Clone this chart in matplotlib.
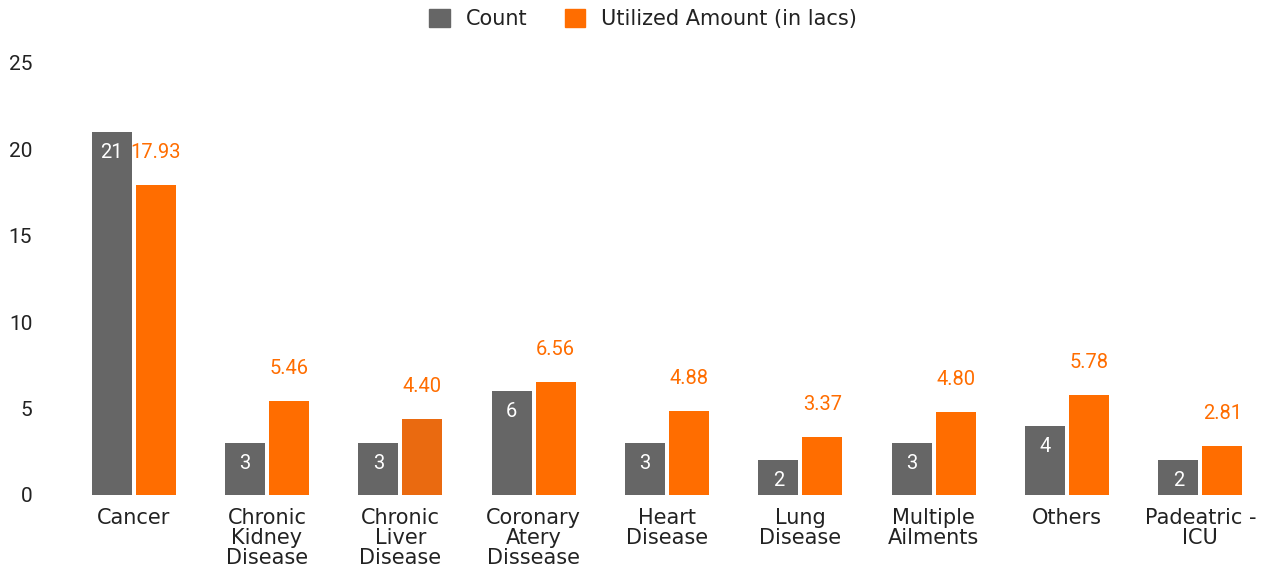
import matplotlib
matplotlib.use("Agg")
import matplotlib.pyplot as plt
import numpy as np

categories = ["Cancer", "Chronic\nKidney\nDisease", "Chronic\nLiver\nDisease", "Coronary\nAtery\nDissease",
              "Heart\nDisease", "Lung\nDisease", "Multiple\nAilments", "Others", "Padeatric -\nICU"]
counts = [21, 3, 3, 6, 3, 2, 3, 4, 2]
amounts = [17.93, 5.46, 4.40, 6.56, 4.88, 3.37, 4.80, 5.78, 2.81]
yticks = [0, 5, 10, 15, 20, 25]

GREY = "#666666"
ORANGE = "#FF6D00"
ORANGE_HL = "#EA6A10"

W, H = 1270, 574
fig = plt.figure(figsize=(W/100, H/100), dpi=100)
ax = fig.add_axes([67/W, 1-495/H, 1200/W, (495-63)/H])

x = np.arange(len(categories))
bw = 0.30
gap = 0.015
ob_colors = [ORANGE]*len(categories)
ob_colors[2] = ORANGE_HL
ax.bar(x - bw/2 - gap, counts, width=bw, color=GREY, label="Count")
ax.bar(x + bw/2 + gap, amounts, width=bw, color=ob_colors, label="Utilized Amount (in lacs)")

ax.set_xlim(-0.5, len(categories)-0.5)
ax.set_ylim(0, 25)
ax.set_yticks(yticks)
ax.set_yticklabels([str(t) for t in yticks], fontsize=15, color="#222222", family="Roboto")
ax.set_xticks(x)
ax.set_xticklabels(categories, fontsize=15, color="#222222", family="DejaVu Sans", linespacing=1.0)
ax.tick_params(axis="both", length=0)
ax.tick_params(axis="y", pad=25)
ax.tick_params(axis="x", pad=9)
for s in ax.spines.values():
    s.set_visible(False)

for xi, c in zip(x, counts):
    ax.annotate(str(c), (xi - bw/2 - gap, c), xytext=(0, -14.5), textcoords="offset points",
                ha="center", va="center", color="white", fontsize=14.5, family="Roboto")
for xi, a in zip(x, amounts):
    ax.annotate(f"{a:.2f}", (xi + bw/2 + gap, a), xytext=(0, 23.5), textcoords="offset points",
                ha="center", va="center", color=ORANGE, fontsize=14.5, family="Roboto")

leg = fig.legend(loc="center", bbox_to_anchor=(643/W, 1-19/H), ncol=2, frameon=False,
                 handlelength=1.0, handleheight=1.0, handletextpad=0.75,
                 columnspacing=1.8, prop={"family": "DejaVu Sans", "size": 15})
leg.legend_handles[0].set_color(GREY)
leg.legend_handles[1].set_color(ORANGE)
for t in leg.get_texts():
    t.set_color("#222222")

fig.savefig("out.png", dpi=100)
